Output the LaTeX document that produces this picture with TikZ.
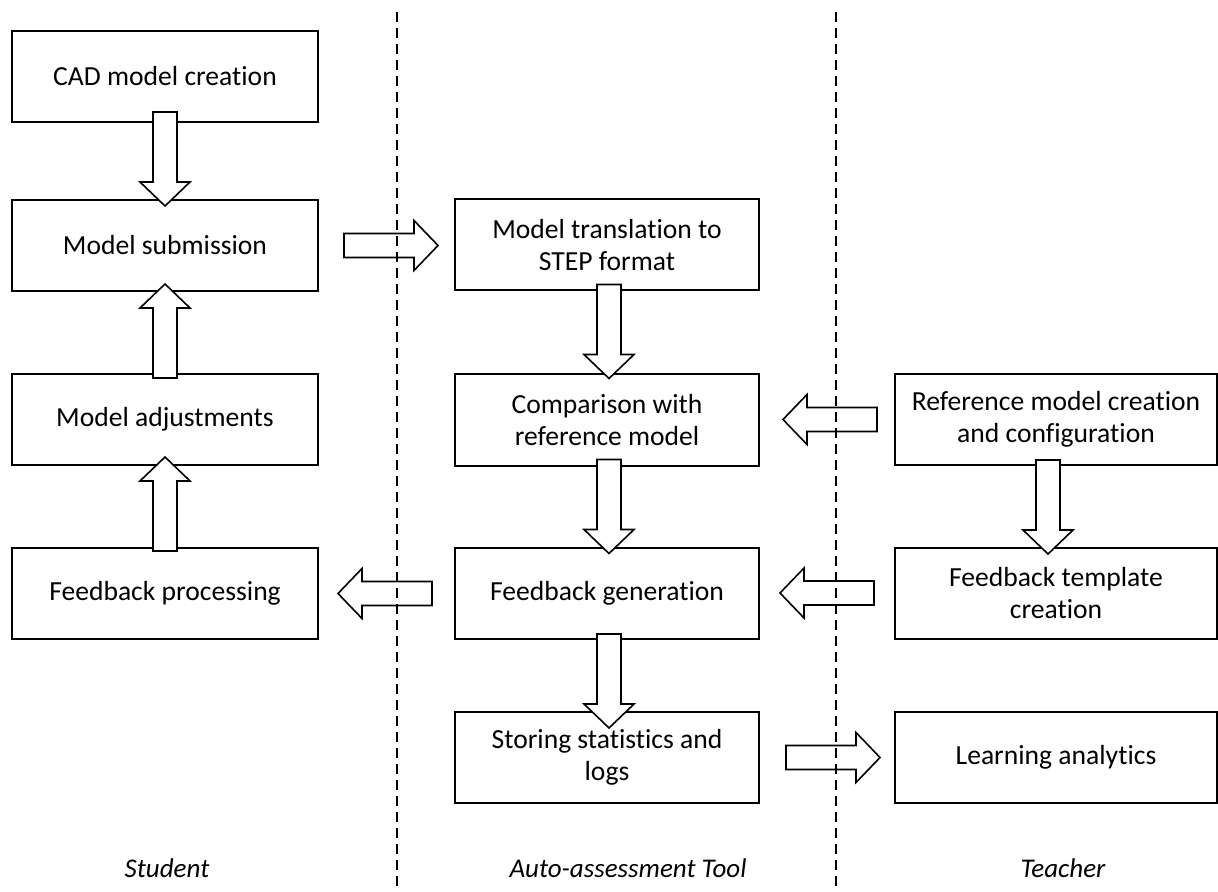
\documentclass[tikz,border=0pt]{standalone}
\usepackage{fontspec}
\setmainfont{Carlito}[Ligatures=NoCommon]
\usetikzlibrary{calc}

\tikzset{
  box/.style={draw, line width=1pt, minimum height=45.5pt, inner sep=2pt, align=center, font=\fontsize{13.8}{16}\selectfont},
  stubox/.style={box, minimum width=153pt},
  toolbox/.style={box, minimum width=152pt},
  teabox/.style={box, minimum width=161pt},
  blockarr/.style={draw, fill=white, line width=0.8pt, line join=miter},
  lane/.style={dash pattern=on 5pt off 3pt, line width=0.75pt},
  role/.style={font=\fontsize{13.5}{16}\selectfont\itshape}
}

% hollow block arrow: start point, direction angle
\newcommand{\blockarrow}[2]{%
  \draw[blockarr, shift={#1}, rotate=#2] (0,-12) -- (70,-12) -- (70,-25) -- (94,0) -- (70,25) -- (70,12) -- (0,12) -- cycle;}

\begin{document}
\begin{tikzpicture}[x=0.5pt, y=-0.5pt]

\useasboundingbox (0,0) rectangle (1218,892);

% Student
\node[stubox] (cad) at (165,76.5) {CAD model creation};
\node[stubox] (sub) at (165,245.5) {Model submission};
\node[stubox] (adj) at (165,419.5) {Model adjustments};
\node[stubox] (fbp) at (165,593.5) {Feedback processing};

% Auto-assessment tool
\node[toolbox] (trans) at (607,245) {Model translation to\\STEP format};
\node[toolbox] (comp) at (607,420) {Comparison with\\reference model};
\node[toolbox] (fbg) at (607,593.5) {Feedback generation};
\node[toolbox] (stor) at (607,757.5) {Storing statistics and\\logs};

% Teacher
\node[teabox] (ref) at (1056,419.5) {Reference model creation\\and configuration};
\node[teabox] (tmpl) at (1056,593) {Feedback template\\creation};
\node[teabox] (learn) at (1056,757.5) {Learning analytics};

% arrows
\blockarrow{($(cad.south)+(0,-11)$)}{-90}
\blockarrow{($(adj.north)+(0,5)$)}{90}
\blockarrow{($(fbp.north)+(0,4)$)}{90}
\blockarrow{($(sub.east)+(25,0)$)}{0}
\blockarrow{($(trans.south)+(2,-7)$)}{-90}
\blockarrow{($(comp.south)+(2,-7)$)}{-90}
\blockarrow{($(fbg.south)+(2,-6)$)}{-90}
\blockarrow{($(ref.west)+(-17,0)$)}{180}
\blockarrow{($(tmpl.west)+(-20,0)$)}{180}
\blockarrow{($(fbg.west)+(-22,0)$)}{180}
\blockarrow{($(stor.east)+(26,0)$)}{0}
\blockarrow{($(ref.south)+(-8,-6)$)}{-90}

% lanes
\draw[lane] (397,12) -- (397,892);
\draw[lane] (836,12) -- (836,892);

\node[role] (student) at (167,868) {Student};
\node[role] (tool) at (628,868) {Auto-assessment Tool};
\node[role] (teacher) at (1063,868) {Teacher};

\end{tikzpicture}
\end{document}
